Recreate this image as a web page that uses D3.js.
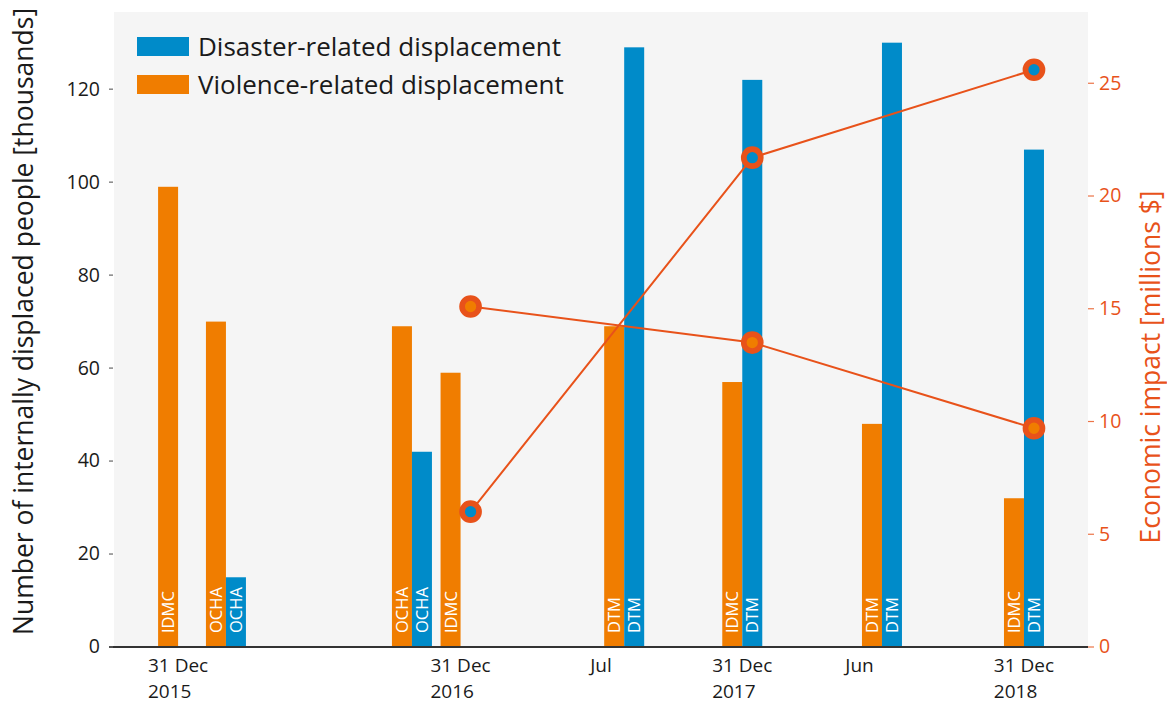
<!DOCTYPE html>
<html>
<head>
<meta charset="utf-8">
<script src="https://cdn.jsdelivr.net/npm/d3@7"></script>
<style>
  html, body { margin: 0; padding: 0; background: #ffffff; }
  svg { display: block; font-family: "Open Sans", "Noto Sans", sans-serif; }
</style>
</head>
<body>
<svg id="chart" width="1167" height="704"></svg>
<script>
// ---------- data ----------
const violenceDates   = ["2015-12-31","2016-03-02","2016-10-29","2016-12-31","2017-07-31","2017-12-31","2018-06-30","2018-12-31"];
const violenceValues  = [99, 70, 69, 59, 69, 57, 48, 32];
const violenceSources = ["IDMC","OCHA","OCHA","IDMC","DTM","IDMC","DTM","IDMC"];

const disasterDates   = ["2016-03-02","2016-10-29","2017-07-31","2017-12-31","2018-06-30","2018-12-31"];
const disasterValues  = [15, 42, 129, 122, 130, 107];
const disasterSources = ["OCHA","OCHA","DTM","DTM","DTM","DTM"];

const econDates    = ["2016-12-31","2017-12-31","2018-12-31"];
const econViolence = [15.1, 13.5, 9.7];
const econDisaster = [6.0, 21.7, 25.6];

const xTickDates  = ["2015-12-31","2016-12-31","2017-07-01","2017-12-31","2018-06-01","2018-12-31"];
const xTickLabels = [["31 Dec","2015"],["31 Dec","2016"],["Jul"],["31 Dec","2017"],["Jun"],["31 Dec","2018"]];
const yLeftTicks  = [0, 20, 40, 60, 80, 100, 120];
const yRightTicks = [0, 5, 10, 15, 20, 25];

const legendLabels = ["Disaster-related displacement", "Violence-related displacement"];
const xDomain      = ["2015-09-26", "2019-03-11"];
const yLeftDomain  = [0, 136.6];
const yRightDomain = [0, 28.16];

// ---------- styles ----------
const BLUE = "#008bc9", ORANGE = "#f07d00", RED = "#e8521a", BG = "#f5f5f5", TEXT = "#1a1a1a";
const M = { left: 114, right: 1088, top: 12, bottom: 647 };
const BAR_W = 20;

const parse = d3.utcParse("%Y-%m-%d");
const svg = d3.select("#chart");

const x  = d3.scaleUtc().domain(xDomain.map(parse)).range([M.left, M.right]);
const yL = d3.scaleLinear().domain(yLeftDomain).range([M.bottom, M.top]);
const yR = d3.scaleLinear().domain(yRightDomain).range([M.bottom, M.top]);

// background
svg.append("rect").attr("x", M.left).attr("y", M.top)
  .attr("width", M.right - M.left).attr("height", M.bottom - M.top).attr("fill", BG);

// bars
const violence = violenceDates.map((d, i) => ({ date: parse(d), value: violenceValues[i], src: violenceSources[i] }));
const disaster = disasterDates.map((d, i) => ({ date: parse(d), value: disasterValues[i], src: disasterSources[i] }));

function drawBars(data, color, shift) {
  const g = svg.append("g");
  g.selectAll("rect").data(data).join("rect")
    .attr("x", d => x(d.date) + shift - BAR_W / 2)
    .attr("width", BAR_W)
    .attr("y", d => yL(d.value))
    .attr("height", d => yL(0) - yL(d.value))
    .attr("fill", color);
  g.selectAll("text").data(data).join("text")
    .attr("transform", d => `translate(${x(d.date) + shift},${M.bottom - 14}) rotate(-90)`)
    .attr("dy", "0.36em")
    .attr("fill", "#ffffff")
    .attr("font-size", 16.5)
    .text(d => d.src);
}
drawBars(violence, ORANGE, -BAR_W);
drawBars(disaster, BLUE, 0);

// x axis line
svg.append("line").attr("x1", M.left - 5).attr("x2", M.right)
  .attr("y1", M.bottom).attr("y2", M.bottom)
  .attr("stroke", "#333").attr("stroke-width", 2);

// x tick labels (lines left-aligned, block centred on tick)
const xt = svg.append("g").attr("font-size", 19).attr("fill", TEXT);
xTickDates.forEach((d, i) => {
  const cx = x(parse(d)) - 10;
  const lines = xTickLabels[i];
  const t0 = xt.append("text").attr("x", cx).attr("y", 672).attr("text-anchor", "middle").text(lines[0]);
  if (lines.length > 1) {
    const left = cx - t0.node().getComputedTextLength() / 2;
    t0.attr("x", left).attr("text-anchor", "start");
    xt.append("text").attr("x", left).attr("y", 698).attr("text-anchor", "start").text(lines[1]);
  }
});

// left axis
const gl = svg.append("g");
yLeftTicks.forEach(v => {
  gl.append("line").attr("x1", M.left - 5).attr("x2", M.left - 1).attr("y1", yL(v)).attr("y2", yL(v))
    .attr("stroke", "#666").attr("stroke-width", 1.2);
  gl.append("text").attr("x", 100).attr("y", yL(v)).attr("dy", "0.33em")
    .attr("text-anchor", "end").attr("font-size", 19.5).attr("fill", TEXT).text(v);
});
svg.append("text")
  .attr("transform", `translate(33,${(M.top + M.bottom) / 2 - 8}) rotate(-90)`)
  .attr("text-anchor", "middle").attr("font-size", 26.5).attr("fill", TEXT)
  .text("Number of internally displaced people [thousands]");

// right axis
const gr = svg.append("g");
yRightTicks.forEach(v => {
  gr.append("line").attr("x1", M.right).attr("x2", M.right + 6).attr("y1", yR(v)).attr("y2", yR(v))
    .attr("stroke", RED).attr("stroke-width", 1.2).attr("opacity", 0.8);
  gr.append("text").attr("x", 1099).attr("y", yR(v)).attr("dy", "0.33em")
    .attr("text-anchor", "start").attr("font-size", 19.5).attr("fill", RED).text(v);
});
svg.append("text")
  .attr("transform", `translate(1160,367) rotate(-90)`)
  .attr("text-anchor", "middle").attr("font-size", 26.5).attr("fill", RED)
  .text("Economic impact [millions $]");

// economic lines
const line = d3.line().x(d => x(d.date)).y(d => yR(d.value));
const econSeries = [
  { fill: ORANGE, pts: econDates.map((d, i) => ({ date: parse(d), value: econViolence[i] })) },
  { fill: BLUE,   pts: econDates.map((d, i) => ({ date: parse(d), value: econDisaster[i] })) }
];
econSeries.forEach(s => {
  svg.append("path").datum(s.pts).attr("d", line)
    .attr("fill", "none").attr("stroke", RED).attr("stroke-width", 2);
});
econSeries.forEach(s => {
  svg.append("g").selectAll("circle").data(s.pts).join("circle")
    .attr("cx", d => x(d.date)).attr("cy", d => yR(d.value)).attr("r", 8.5)
    .attr("fill", s.fill).attr("stroke", RED).attr("stroke-width", 5.7);
});

// legend
const lg = svg.append("g");
[BLUE, ORANGE].forEach((c, i) => {
  lg.append("rect").attr("x", 137).attr("y", 37 + i * 38).attr("width", 52).attr("height", 19).attr("fill", c);
  lg.append("text").attr("x", 198).attr("y", 56 + i * 38).attr("font-size", 26).attr("fill", TEXT).text(legendLabels[i]);
});
</script>
</body>
</html>
